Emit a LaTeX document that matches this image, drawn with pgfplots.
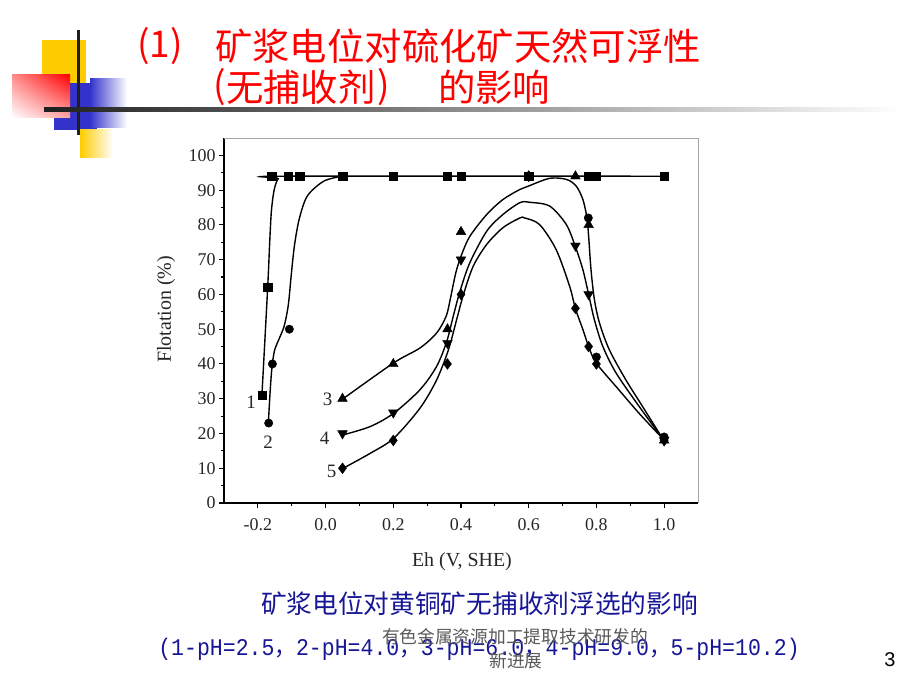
\documentclass[border=0pt]{standalone}
\usepackage{fontspec}
\setmainfont{Liberation Serif}
\newfontfamily\cjk{Noto Sans CJK SC}
\newfontfamily\monof{Liberation Mono}
\newfontfamily\sansf{Liberation Sans}
\usepackage{pgfplots}
\usetikzlibrary{shadings}
\pgfplotsset{compat=1.18}
\definecolor{tred}{RGB}{255,0,0}
\definecolor{cblue}{RGB}{22,22,150}
\definecolor{decoY}{RGB}{255,204,0}
\definecolor{decoB}{RGB}{51,51,204}
\begin{document}
\begin{tikzpicture}
\useasboundingbox (0,0) rectangle (920bp,690bp);
\fill[white] (0,0) rectangle (920bp,690bp);
% decoration
\fill[decoY] (42bp,607bp) rectangle (86bp,650bp);
\fill[decoB] (54bp,560bp) rectangle (97bp,607bp);
\shade[left color=decoB, right color=white] (90bp,562bp) rectangle (127bp,611bp);
\shade[upper right=tred, upper left=tred!45, lower right=tred!35, lower left=white] (12bp,572bp) rectangle (70bp,615bp);
\shade[left color=decoY, right color=white] (80bp,532bp) rectangle (113bp,560bp);
\fill[black!88] (76.5bp,555bp) rectangle (79.5bp,660bp);
\shade[left color=black!88, right color=white] (44bp,578bp) rectangle (900bp,582bp);
% title
\node[anchor=west, inner sep=0pt, text=tred, font=\cjk\fontsize{37}{40}\selectfont] at (137bp,644bp) {(1)};
\node[anchor=west, inner sep=0pt, text=tred, font=\cjk\fontsize{37.5}{40}\selectfont] at (215bp,644bp) {矿浆电位对硫化矿天然可浮性};
\node[anchor=west, inner sep=0pt, text=tred, font=\cjk\fontsize{37}{40}\selectfont] at (213bp,603bp) {(};
\node[anchor=west, inner sep=0pt, text=tred, font=\cjk\fontsize{37.5}{40}\selectfont] at (226bp,603bp) {无捕收剂};
\node[anchor=west, inner sep=0pt, text=tred, font=\cjk\fontsize{37}{40}\selectfont] at (377bp,603bp) {)};
\node[anchor=west, inner sep=0pt, text=tred, font=\cjk\fontsize{37.5}{40}\selectfont] at (438bp,603bp) {的影响};
% chart
\begin{axis}[
  at={(224bp,187bp)}, anchor=south west,
  scale only axis, width=474bp, height=365bp,
  xmin=-0.3, xmax=1.1, ymin=0, ymax=105,
  axis lines*=left, clip=false,
  axis line style={line width=1.6bp, black},
  xtick={-0.2,0,0.2,0.4,0.6,0.8,1.0},
  xticklabels={-0.2,0.0,0.2,0.4,0.6,0.8,1.0},
  ytick={0,10,20,30,40,50,60,70,80,90,100},
  minor x tick num=1, minor y tick num=1,
  tick align=outside,
  major tick length=5bp, minor tick length=3bp,
  every tick/.style={black, line width=1.1bp},
  /pgf/number format/assume math mode=true,
  tick label style={font=\fontsize{18}{20}\selectfont, text=black!85},
  xticklabel style={yshift=-7bp},
  xlabel={Eh (V, SHE)}, ylabel={Flotation (\%)},
  xlabel style={font=\fontsize{20}{22}\selectfont, text=black!85, at={(axis description cs:0.502,-0.162)}, anchor=center},
  ylabel style={font=\fontsize{20}{22}\selectfont, text=black!85, at={(axis description cs:-0.122,0.53)}, anchor=center},
]
\draw[black!35, line width=0.8bp] (rel axis cs:0,1) -- (rel axis cs:1,1) -- (rel axis cs:1,0);
% curve 1
\addplot[black, line width=1.4bp, smooth, tension=0.5] coordinates {
 (-0.188,31) (-0.171,62) (-0.165,75) (-0.160,84) (-0.152,90) (-0.140,93.3) (-0.120,94) (1.0,94)};
% curve 2
\addplot[black, line width=1.4bp, smooth, tension=0.5] coordinates {
 (-0.169,23) (-0.164,31.6) (-0.159,38.3) (-0.151,43.8) (-0.136,47.5) (-0.122,51) (-0.110,57)
 (-0.101,66) (-0.092,74) (-0.078,81.6) (-0.054,88.3) (-0.005,92.6) (0.049,94)};
% curve 3
\addplot[black, line width=1.4bp, smooth, tension=0.5] coordinates {
 (0.052,30) (0.201,40.3) (0.279,44.6) (0.328,48.9) (0.356,53.7) (0.368,58.5) (0.377,62.8)
 (0.387,67.1) (0.402,71.5) (0.426,76.7) (0.476,83) (0.524,87.3) (0.574,90.2) (0.6,91.2)
 (0.662,93.4) (0.711,93.1) (0.74,91.2) (0.76,87.3) (0.772,82) (0.777,76.7) (0.784,67.1)
 (0.794,58.5) (0.809,51.8) (0.838,44.1) (0.887,35.4) (0.936,27.8) (0.995,18.6)};
% curve 4
\addplot[black, line width=1.4bp, smooth, tension=0.5] coordinates {
 (0.052,19.6) (0.132,22) (0.201,25.8) (0.279,32.6) (0.328,39.3) (0.358,46.5) (0.377,53.7)
 (0.397,60.9) (0.426,69.1) (0.476,78.2) (0.524,83) (0.574,86.4) (0.603,86.5) (0.662,85.4)
 (0.711,80.1) (0.738,73.7) (0.76,67.1) (0.777,60) (0.794,52.7) (0.819,45) (0.858,37.4)
 (0.926,27.8) (0.995,18.6)};
% curve 5
\addplot[black, line width=1.4bp, smooth, tension=0.5] coordinates {
 (0.052,10) (0.132,14.3) (0.201,18.6) (0.279,27.3) (0.328,35.4) (0.363,44.1) (0.387,52.7)
 (0.407,59.9) (0.436,68.1) (0.476,74.4) (0.524,79.2) (0.574,82) (0.588,82) (0.632,80.1)
 (0.681,72.9) (0.721,62.3) (0.738,55.9) (0.76,49.9) (0.777,45) (0.799,40.3) (0.858,33.5)
 (0.926,25.8) (0.995,18.6)};
% markers
\addplot[only marks, mark=square*, mark size=4.2bp, black] coordinates {
 (-0.188,31) (-0.171,62) (-0.159,94) (-0.11,94) (-0.077,94) (0.05,94) (0.2,94) (0.36,94)
 (0.4,94) (0.6,94) (0.776,94) (0.8,94) (1.0,94)};
\addplot[only marks, mark=*, mark size=4.2bp, black] coordinates {
 (-0.168,23) (-0.157,40) (-0.107,50) (0.6,94) (0.776,82) (0.8,42) (1.0,19)};
\addplot[only marks, mark=triangle*, mark size=5.6bp, black] coordinates {
 (0.05,30) (0.2,40) (0.36,50) (0.4,78) (0.6,94) (0.738,94) (0.777,80) (1.0,18)};
\addplot[only marks, mark=triangle*, mark size=5.6bp, black, mark options={rotate=180}] coordinates {
 (0.05,20) (0.2,26) (0.36,46) (0.4,70) (0.738,74) (0.777,60) (1.0,18)};
\addplot[only marks, mark=diamond*, mark size=5.4bp, black] coordinates {
 (0.05,10) (0.2,18) (0.36,40) (0.4,60) (0.6,94) (0.738,56) (0.777,45) (0.8,40) (1.0,18)};
% curve numbers
\node[font=\fontsize{19}{20}\selectfont, text=black!85] at (axis cs:-0.22,29) {1};
\node[font=\fontsize{19}{20}\selectfont, text=black!85] at (axis cs:-0.17,17.5) {2};
\node[font=\fontsize{19}{20}\selectfont, text=black!85] at (axis cs:0.006,29.7) {3};
\node[font=\fontsize{19}{20}\selectfont, text=black!85] at (axis cs:-0.003,18.7) {4};
\node[font=\fontsize{19}{20}\selectfont, text=black!85] at (axis cs:0.018,9.2) {5};
\end{axis}
% captions
\node[text=cblue, font=\cjk\fontsize{25.8}{28}\selectfont, inner sep=0pt] at (479.5bp,86bp) {矿浆电位对黄铜矿无捕收剂浮选的影响};
\node[text=cblue, font=\monof\fontsize{24}{26}\selectfont, inner sep=0pt, xscale=0.9] at (479bp,41bp) {(1-pH=2.5{\cjk ，}2-pH=4.0{\cjk ，}3-pH=6.0{\cjk ，}4-pH=9.0{\cjk ，}5-pH=10.2)};
\node[text=black!65, font=\cjk\fontsize{17.8}{20}\selectfont, inner sep=0pt] at (515bp,53bp) {有色金属资源加工提取技术研发的};
\node[text=black!65, font=\cjk\fontsize{17.8}{20}\selectfont, inner sep=0pt] at (516bp,29bp) {新进展};
\node[text=black, font=\sansf\fontsize{20}{22}\selectfont, inner sep=0pt] at (890bp,30bp) {3};
\end{tikzpicture}
\end{document}
